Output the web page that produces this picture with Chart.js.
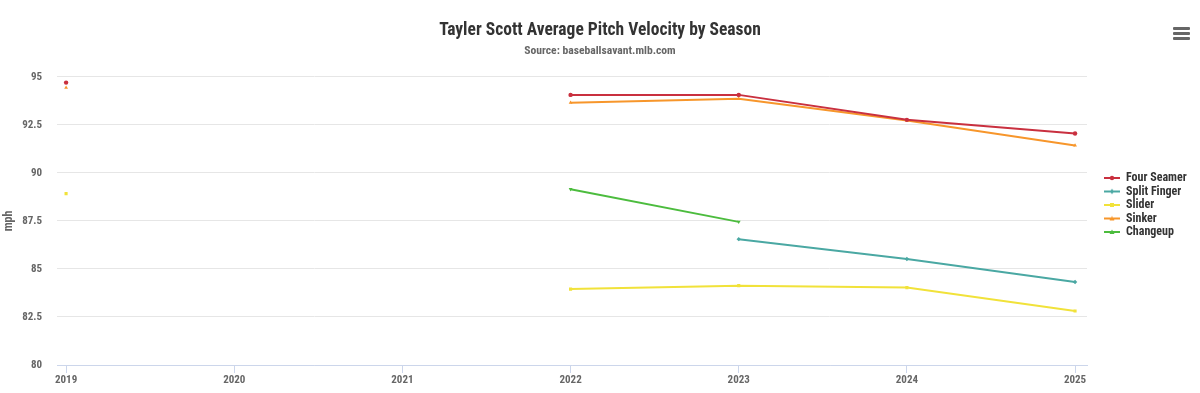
<!DOCTYPE html>
<html>
<head>
<meta charset="utf-8">
<script src="https://cdn.jsdelivr.net/npm/chart.js@4.4.1/dist/chart.umd.min.js"></script>
<style>
  html, body { margin: 0; padding: 0; background: #ffffff; }
  #wrap { position: relative; width: 1200px; height: 393px; }
  #menu { position: absolute; left: 1173px; top: 27px; width: 17px; }
  #menu div { height: 3px; background: #666666; margin-bottom: 2px; border-radius: 1px; }
</style>
</head>
<body>
<div id="wrap">
  <canvas id="c" width="1200" height="393"></canvas>
  <div id="menu"><div></div><div></div><div></div></div>
</div>
<script>
const seasons = [2019, 2020, 2021, 2022, 2023, 2024, 2025];
const fourSeamer  = [94.7, null, null, 94.06, 94.06, 92.76, 92.05];
const splitFinger = [null, null, null, null, 86.55, 85.52, 84.32];
const slider      = [88.92, null, null, 83.95, 84.13, 84.03, 82.81];
const sinker      = [94.43, null, null, 93.65, 93.86, 92.73, 91.43];
const changeup    = [null, null, null, 89.15, 87.45, null, null];
const seriesNames = ['Four Seamer', 'Split Finger', 'Slider', 'Sinker', 'Changeup'];
const seriesColors = ['#c9303f', '#4aa8a3', '#f1e23a', '#f7962b', '#4cbc3e'];
const seriesMarkers = ['circle', 'rectRot', 'rect', 'triangle', 'triangle'];
const yTicks = [80, 82.5, 85, 87.5, 90, 92.5, 95];

const FONT = '"Roboto Condensed", "Liberation Sans Narrow", "Roboto", sans-serif';

function pts(arr) { return seasons.map((s, i) => ({ x: s, y: arr[i] })); }

function legendIcon(color, marker) {
  const cv = document.createElement('canvas');
  cv.width = 16; cv.height = 8;
  const g = cv.getContext('2d');
  g.strokeStyle = color; g.lineWidth = 2;
  g.beginPath(); g.moveTo(0, 4); g.lineTo(16, 4); g.stroke();
  g.fillStyle = color;
  g.beginPath();
  if (marker === 'circle') { g.arc(8, 4, 2.2, 0, Math.PI * 2); }
  else if (marker === 'rect') { g.rect(6, 2, 4, 4); }
  else if (marker === 'rectRot') { g.moveTo(8, 1.5); g.lineTo(10.5, 4); g.lineTo(8, 6.5); g.lineTo(5.5, 4); g.closePath(); }
  else { g.moveTo(8, 1.5); g.lineTo(10.5, 6); g.lineTo(5.5, 6); g.closePath(); }
  g.fill();
  return cv;
}

const allSeries = [fourSeamer, splitFinger, slider, sinker, changeup];
const datasets = allSeries.map((arr, i) => ({
  label: seriesNames[i],
  data: pts(arr),
  borderColor: seriesColors[i],
  backgroundColor: seriesColors[i],
  borderWidth: 2,
  pointRadius: 2.2,
  pointHoverRadius: 3,
  pointStyle: seriesMarkers[i],
  pointRotation: (i === 4) ? 180 : 0,
  pointBorderWidth: 0,
  tension: 0,
  spanGaps: false,
  fill: false
}));

const layoutFix = {
  id: 'layoutFix',
  beforeLayout(chart) {
    const lg = chart.legend;
    if (lg && !lg._patched) {
      const orig = lg.fit.bind(lg);
      lg.fit = function () { orig(); this.width = 113; };
      lg._patched = true;
    }
  },
  afterLayout(chart) {
    const lg = chart.legend;
    if (lg) {
      lg.left = 1102.5; lg.right = 1200;
      lg.top = 170.5;
    }
  }
};

new Chart(document.getElementById('c'), {
  type: 'line',
  data: { datasets },
  plugins: [layoutFix],
  options: {
    responsive: false,
    animation: false,
    layout: { padding: 0 },
    plugins: {
      title: {
        display: true,
        text: 'Tayler Scott Average Pitch Velocity by Season',
        color: '#333333',
        font: { family: FONT, size: 17.5, weight: 'bold', lineHeight: 1.2 },
        padding: { top: 19.7, bottom: 0 }
      },
      subtitle: {
        display: true,
        text: 'Source: baseballsavant.mlb.com',
        color: '#666666',
        font: { family: FONT, size: 11.6, weight: 'bold', lineHeight: 1.2 },
        padding: { top: 3.2, bottom: 19 }
      },
      legend: {
        position: 'right',
        align: 'start',
        labels: {
          color: '#333333',
          font: { family: FONT, size: 12, weight: 'bold' },
          padding: 1.5,
          usePointStyle: true,
          pointStyleWidth: 16,
          generateLabels(chart) {
            return chart.data.datasets.map((ds, i) => ({
              text: ds.label,
              fillStyle: ds.borderColor,
              strokeStyle: ds.borderColor,
              fontColor: '#333333',
              lineWidth: 0,
              pointStyle: legendIcon(seriesColors[i], seriesMarkers[i]),
              hidden: !chart.isDatasetVisible(i),
              datasetIndex: i
            }));
          }
        }
      },
      tooltip: { enabled: false }
    },
    scales: {
      x: {
        type: 'linear',
        min: 2018.946,
        max: 2025.071,
        afterFit(scale) { scale.height = 28; },
        border: { display: true, color: '#ccd6eb', width: 1 },
        grid: { display: true, drawOnChartArea: false, drawTicks: true, tickLength: 8, color: '#ccd6eb' },
        afterBuildTicks(scale) { scale.ticks = seasons.map(v => ({ value: v })); },
        ticks: {
          includeBounds: false,
          stepSize: 1,
          padding: 1,
          color: '#666666',
          font: { family: FONT, size: 11, weight: 'bold' },
          maxRotation: 0,
          autoSkip: false,
          callback: (v) => String(v)
        }
      },
      y: {
        min: 80,
        max: 95,
        afterFit(scale) { scale.width = 57; },
        afterBuildTicks(scale) { scale.ticks = yTicks.map(v => ({ value: v })); },
        border: { display: false },
        grid: { color: '#e6e6e6', lineWidth: 1, drawTicks: false },
        title: {
          display: true,
          text: 'mph',
          color: '#666666',
          font: { family: FONT, size: 12, weight: 'bold' },
          padding: { top: 2, bottom: 0 }
        },
        ticks: {
          padding: 15,
          color: '#666666',
          font: { family: FONT, size: 11, weight: 'bold' },
          callback: (v) => String(v)
        }
      }
    }
  }
});
</script>
</body>
</html>
